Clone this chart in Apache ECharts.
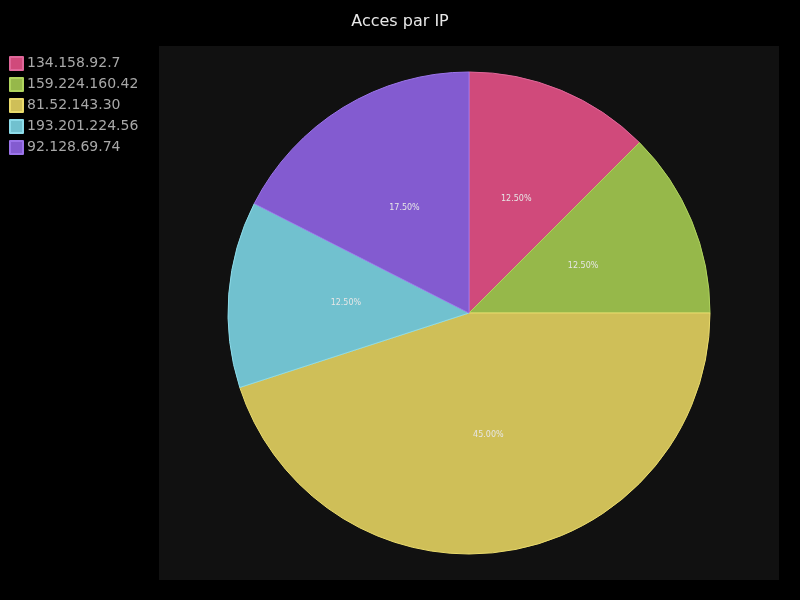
<!DOCTYPE html>
<html>
<head>
<meta charset="utf-8">
<script src="https://cdn.jsdelivr.net/npm/echarts@6/dist/echarts.min.js"></script>
<style>
  html, body { margin: 0; padding: 0; background: #000; }
  #chart { width: 800px; height: 600px; }
</style>
</head>
<body>
<div id="chart"></div>
<script>
// Access counts per client IP
const categories = ['134.158.92.7', '159.224.160.42', '81.52.143.30', '193.201.224.56', '92.128.69.74'];
const values = [12.5, 12.5, 45, 12.5, 17.5];
const fillColors = ['#d04a7b', '#96b84a', '#cfbf58', '#71c1cf', '#835bd0'];
const edgeColors = ['#e0679a', '#b0d45e', '#eadb6c', '#8ddcea', '#9b74ea'];

const chart = echarts.init(document.getElementById('chart'), null, { renderer: 'canvas' });

const plot = { left: 159, top: 46, width: 620, height: 534 };

chart.setOption({
  backgroundColor: '#000000',
  animation: false,
  title: {
    text: 'Acces par IP',
    left: 'center',
    top: 9,
    textStyle: { color: '#e8e8e8', fontSize: 16, fontWeight: 'normal', fontFamily: 'DejaVu Sans' }
  },
  graphic: [{
    type: 'rect',
    z: -10,
    shape: { x: plot.left, y: plot.top, width: plot.width, height: plot.height },
    style: { fill: '#111111' }
  }],
  legend: {
    orient: 'vertical',
    left: 9,
    top: 56,
    padding: 0,
    itemWidth: 13,
    itemHeight: 13,
    itemGap: 6,
    icon: 'rect',
    data: categories,
    textStyle: { color: '#a8a8a8', fontSize: 14, fontFamily: 'DejaVu Sans', padding: [0, 0, 0, -1] }
  },
  series: [{
    type: 'pie',
    center: [plot.left + plot.width / 2, plot.top + plot.height / 2],
    radius: [0, 241],
    startAngle: 90,
    clockwise: true,
    avoidLabelOverlap: false,
    label: {
      show: true,
      position: 'inside',
      color: '#e6e6e6',
      fontSize: 8,
      fontFamily: 'DejaVu Sans',
      formatter: p => p.value.toFixed(2) + '%'
    },
    labelLine: { show: false },
    emphasis: { disabled: true },
    data: categories.map((name, i) => ({
      name: name,
      value: values[i],
      itemStyle: { color: fillColors[i], borderColor: edgeColors[i], borderWidth: 1 }
    }))
  }]
});
</script>
</body>
</html>
